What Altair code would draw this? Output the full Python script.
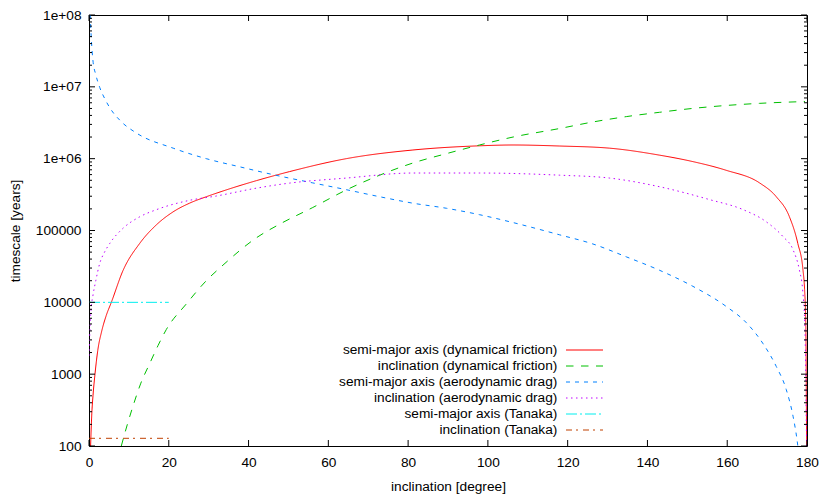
import altair as alt
import pandas as pd

FONT = "Liberation Sans"
FS = 13.7

SERIES = [
    "semi-major axis (dynamical friction)",
    "inclination (dynamical friction)",
    "semi-major axis (aerodynamic drag)",
    "inclination (aerodynamic drag)",
    "semi-major axis (Tanaka)",
    "inclination (Tanaka)",
]
COLORS = ["#ff0000", "#00c000", "#0080ff", "#c000ff", "#00eeee", "#c04000"]
DASHES = [[1, 0], [7.5, 7.5], [4, 5], [1.5, 3.5], [11, 3, 2, 3], [6, 4, 2, 5]]

# semi-major axis (dynamical friction)
A_DF_X = [0.4, 0.7, 1.0, 1.5, 2.2, 3.2, 4.3, 5.6, 8.5, 12.7, 16.9, 21.1, 25.2, 29.4, 33.6, 42.0,
          50.3, 64.5, 81.2, 97.9, 106.3, 118.0, 130.5, 143.0, 151.4, 159.7, 168.1, 172.3, 175.6,
          177.7, 179.0, 179.4, 179.7, 179.9]
A_DF_Y = [100, 280, 500, 1000, 2140, 4000, 6500, 10000, 27500, 66000, 120000, 182000, 240000,
          295000, 355000, 495000, 661000, 1000000, 1320000, 1510000, 1550000, 1500000, 1400000,
          1120000, 910000, 690000, 460000, 295000, 155000, 66000, 28000, 15000, 5000, 100]

# inclination (dynamical friction)
I_DF_X = [8.1, 9.5, 11.0, 13.0, 15.2, 17.3, 19.4, 24.4, 29.4, 33.6, 42.0, 48.2, 56.1, 64.5, 72.9,
          81.2, 89.6, 97.9, 106.3, 118.0, 126.3, 134.7, 143.0, 151.4, 159.7, 168.1, 179.5]
I_DF_Y = [100, 190, 355, 750, 1400, 2500, 4200, 9500, 20000, 33000, 79400, 126000, 209000, 367000,
          590000, 870000, 1175000, 1550000, 2000000, 2630000, 3240000, 3850000, 4420000, 5010000,
          5500000, 5890000, 6240000]

# semi-major axis (aerodynamic drag)
A_AD_X = [0.3, 0.6, 1.0, 1.7, 2.7, 4.0, 5.2, 8.0, 11.8, 21.1, 29.4, 37.8, 46.1, 56.1, 64.5, 72.9,
          81.2, 89.6, 97.9, 106.3, 118.0, 126.3, 134.7, 143.0, 151.4, 159.7, 164.8, 168.9, 172.3,
          174.8, 176.5, 177.5, 177.7]
A_AD_Y = [100000000, 44700000, 22900000, 14800000, 9770000, 6760000, 5130000, 3310000, 2290000,
          1400000, 1000000, 770000, 600000, 460000, 370000, 295000, 240000, 204000, 166000,
          129000, 87000, 65000, 43000, 28000, 16700, 8800, 5200, 2700, 1280, 610, 260, 122, 100]

# inclination (aerodynamic drag)
I_AD_X = [0.0, 0.3, 0.6, 1.0, 1.7, 2.7, 3.9, 5.2, 8.5, 12.7, 16.9, 25.2, 31.9, 42.0, 50.3, 64.5,
          81.2, 97.9, 118.0, 130.5, 143.0, 155.6, 164.0, 169.8, 174.0, 176.5, 178.1, 178.9, 179.5,
          179.9]
I_AD_Y = [1800, 5000, 8900, 12600, 20000, 35000, 50000, 66000, 107000, 155000, 195000, 263000,
          302000, 389000, 457000, 537000, 631000, 631000, 589000, 537000, 407000, 269000, 195000,
          132000, 82000, 54000, 28000, 15000, 4000, 100]

# Tanaka
A_TA_X = [0, 20]
A_TA_Y = [10000, 10000]
I_TA_X = [0, 20]
I_TA_Y = [128, 128]

X_TICKS = [0, 20, 40, 60, 80, 100, 120, 140, 160, 180]
Y_TICKS = [100, 1000, 10000, 100000, 1000000, 10000000, 100000000]
Y_LABELS = ["100", "1000", "10000", "100000", "1e+06", "1e+07", "1e+08"]
Y_MINOR = [m * d for d in [100, 1000, 10000, 100000, 1000000, 10000000] for m in range(2, 10)]

W, H = 718, 431

rows = []
for name, xs, ys in zip(SERIES,
                        [A_DF_X, I_DF_X, A_AD_X, I_AD_X, A_TA_X, I_TA_X],
                        [A_DF_Y, I_DF_Y, A_AD_Y, I_AD_Y, A_TA_Y, I_TA_Y]):
    for x, y in zip(xs, ys):
        rows.append({"x": x, "y": y, "series": name})
df = pd.DataFrame(rows)

xscale = alt.Scale(domain=[0, 180], nice=False, zero=False)
yscale = alt.Scale(type="log", domain=[100, 100000000], nice=False)

label_expr = "''"
for v, l in reversed(list(zip(Y_TICKS, Y_LABELS))):
    label_expr = f"datum.value == {v} ? '{l}' : ({label_expr})"

xaxis = alt.Axis(
    values=X_TICKS, format="d", title="inclination [degree]", labelFlush=False,
    labelOverlap=False, labelBaseline="alphabetic", labelPadding=20.4,
    titleY=44.4, titleBaseline="alphabetic")
yaxis = alt.Axis(
    values=Y_TICKS, labelExpr=label_expr, title="timescale [years]", labelOverlap=False,
    labelPadding=8, labelBaseline="middle", labelAlign="right",
    titleX=-74, titleY=H / 2, titleAngle=270, titleBaseline="middle", titleAlign="center")

X_ENC = alt.X("x:Q", scale=xscale, axis=xaxis)
Y_ENC = alt.Y("y:Q", scale=yscale, axis=yaxis)

lines = alt.Chart(df).mark_line(strokeWidth=1, interpolate="monotone", clip=True).encode(
    x=X_ENC, y=Y_ENC,
    color=alt.Color("series:N", scale=alt.Scale(domain=SERIES, range=COLORS), legend=None),
    strokeDash=alt.StrokeDash("series:N", scale=alt.Scale(domain=SERIES, range=DASHES), legend=None),
)

ymaj = pd.DataFrame({"y": Y_TICKS})
ymin = pd.DataFrame({"y": Y_MINOR})
xmaj = pd.DataFrame({"x": X_TICKS})


def ytick(data, x0, x1):
    return alt.Chart(data).mark_rule(color="black", strokeWidth=1).encode(
        y=Y_ENC, x=alt.value(x0), x2=alt.value(x1))


def xtick(data, y0, y1):
    return alt.Chart(data).mark_rule(color="black", strokeWidth=1).encode(
        x=X_ENC, y=alt.value(y0), y2=alt.value(y1))


ticks = [
    ytick(ymaj, 0, 6), ytick(ymaj, W - 6, W),
    ytick(ymin, 0, 3), ytick(ymin, W - 3, W),
    xtick(xmaj, H, H - 6), xtick(xmaj, 0, 6),
]

legend = []
for i, (name, c, d) in enumerate(zip(SERIES, COLORS, DASHES)):
    yy = 335 + 16 * i
    legend.append(alt.Chart(alt.Data(values=[{}])).mark_text(
        align="right", baseline="middle", font=FONT, fontSize=FS, color="black").encode(
        x=alt.value(468.4), y=alt.value(yy), text=alt.value(name)))
    legend.append(alt.Chart(alt.Data(values=[{}])).mark_rule(
        color=c, strokeDash=d, strokeWidth=1).encode(
        x=alt.value(477), x2=alt.value(514), y=alt.value(yy)))

chart = alt.layer(lines, *ticks, *legend).properties(
    width=W, height=H,
    autosize=alt.AutoSizeParams(type="none"),
    padding={"left": 81, "top": 7, "right": 12, "bottom": 50},
).configure_view(stroke="black", strokeWidth=1).configure_axis(
    domain=False, ticks=False, tickSize=0, grid=False,
    labelFont=FONT, labelFontSize=FS, labelColor="black",
    titleFont=FONT, titleFontSize=FS, titleColor="black", titleFontWeight="normal",
)

chart.save("out.html", embed_options={"renderer": "svg", "actions": False})
